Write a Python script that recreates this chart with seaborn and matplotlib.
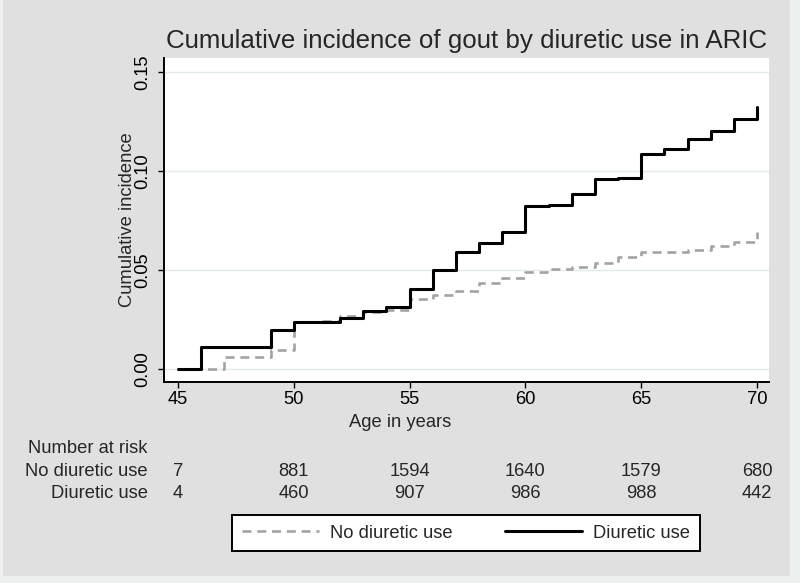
import matplotlib
matplotlib.use("Agg")
import matplotlib.pyplot as plt
import matplotlib.transforms as mtransforms
from matplotlib.patches import Rectangle
import pandas as pd
import seaborn as sns

# Cumulative incidence (value from each age onwards)
ages = list(range(45, 71))
no_diuretic = [0.0, 0.0, 0.0060, 0.0060, 0.0095, 0.0239, 0.0240, 0.0270, 0.0290,
               0.0300, 0.0352, 0.0372, 0.0395, 0.0435, 0.0458, 0.0490, 0.0505,
               0.0515, 0.0537, 0.0564, 0.0589, 0.0593, 0.0601, 0.0620, 0.0643, 0.0693]
diuretic = [0.0, 0.0112, 0.0112, 0.0112, 0.0197, 0.0239, 0.0239, 0.0256, 0.0294,
            0.0315, 0.0402, 0.0500, 0.0592, 0.0638, 0.0690, 0.0823, 0.0830,
            0.0884, 0.0958, 0.0966, 0.1086, 0.1111, 0.1162, 0.1202, 0.1263, 0.1325]

# Number at risk table
risk_ages = [45, 50, 55, 60, 65, 70]
risk_no_diuretic = [7, 881, 1594, 1640, 1579, 680]
risk_diuretic = [4, 460, 907, 986, 988, 442]

FS = 13.2

sns.set_theme(style="ticks", rc={"axes.edgecolor": "black", "axes.linewidth": 1.4})
plt.rcParams["font.family"] = ["Liberation Sans", "DejaVu Sans"]

df = pd.concat(
    [
        pd.DataFrame({"age": ages, "cuminc": no_diuretic, "group": "No diuretic use"}),
        pd.DataFrame({"age": ages, "cuminc": diuretic, "group": "Diuretic use"}),
    ],
    ignore_index=True,
)

fig = plt.figure(figsize=(8, 5.83), dpi=100, facecolor="#edf1ef")
fig.add_artist(Rectangle((3 / 800, 7 / 583), 787 / 800, 1, transform=fig.transFigure,
                         facecolor="#e0e0e0", edgecolor="none", zorder=-1))
ax = fig.add_axes([0.2054, 0.3453, 0.75625, 0.5557])
ax.set_facecolor("white")

sns.lineplot(data=df[df["group"] == "No diuretic use"], x="age", y="cuminc",
             color="#a3a3a3", linewidth=1.9, linestyle=(0, (3.4, 2.2)),
             drawstyle="steps-post", label="No diuretic use", ax=ax)
sns.lineplot(data=df[df["group"] == "Diuretic use"], x="age", y="cuminc",
             color="black", linewidth=2.2, drawstyle="steps-post",
             label="Diuretic use", ax=ax)

ax.set_xlim(44.41, 70.53)
ax.set_ylim(-0.0064, 0.1572)
ax.set_xticks(risk_ages)
ax.set_yticks([0, 0.05, 0.10, 0.15])
ax.set_yticklabels(["0.00", "0.05", "0.10", "0.15"], rotation=90, va="center")
ax.tick_params(axis="both", direction="out", length=4.5, width=1.0, labelsize=FS,
               colors="black")
ax.tick_params(axis="y", pad=5.0)
ax.tick_params(axis="x", pad=2)
ax.yaxis.grid(True, color="#e3ecea", linewidth=1.0)
ax.set_axisbelow(True)
sns.despine(ax=ax)

ax.set_title("Cumulative incidence of gout by diuretic use in ARIC", fontsize=18.6, pad=6.8)
ax.set_xlabel("Age in years", fontsize=FS)
ax.set_ylabel("Cumulative incidence", fontsize=FS)
ax.xaxis.set_label_coords(0.5, 1 - 414 / 583, transform=fig.transFigure)
ax.yaxis.set_label_coords(136 / 800, 1 - 219.7 / 583, transform=fig.transFigure)

# Number at risk table below the axis
blend = mtransforms.blended_transform_factory(ax.transData, fig.transFigure)
fig.text(148 / 800, 1 - 453 / 583, "Number at risk", ha="right", va="baseline", fontsize=FS)
fig.text(148 / 800, 1 - 476 / 583, "No diuretic use", ha="right", va="baseline", fontsize=FS)
fig.text(148 / 800, 1 - 498 / 583, "Diuretic use", ha="right", va="baseline", fontsize=FS)
for a, n1, n2 in zip(risk_ages, risk_no_diuretic, risk_diuretic):
    ax.text(a, 1 - 476 / 583, str(n1), transform=blend, ha="center", va="baseline",
            fontsize=FS, clip_on=False)
    ax.text(a, 1 - 498 / 583, str(n2), transform=blend, ha="center", va="baseline",
            fontsize=FS, clip_on=False)

handles, labels = ax.get_legend_handles_labels()
if ax.get_legend() is not None:
    ax.get_legend().remove()
leg = fig.legend(handles, labels, ncol=2, loc="center",
                 bbox_to_anchor=(466 / 800, 1 - 533 / 583), fontsize=FS,
                 handlelength=4.2, handletextpad=0.6, columnspacing=2.9,
                 borderpad=0.5, fancybox=False, framealpha=1, facecolor="white",
                 edgecolor="black")
leg.get_frame().set_linewidth(1.4)

fig.savefig("out.png", dpi=100, facecolor=fig.get_facecolor())
